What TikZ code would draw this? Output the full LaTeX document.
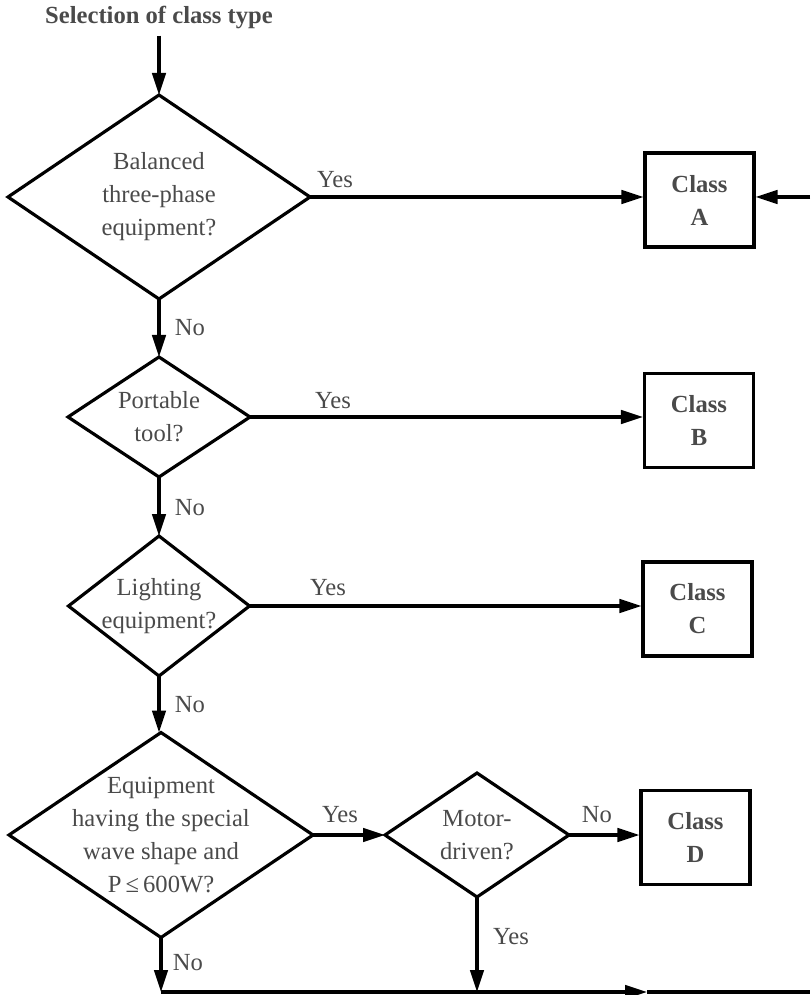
\documentclass[tikz,border=0pt]{standalone}
\usepackage{fontspec}
\setmainfont{Liberation Serif}
\usetikzlibrary{shapes.geometric,arrows.meta}
\definecolor{txtgray}{HTML}{4A4A4A}
\newcommand{\flowfont}{\fontsize{14pt}{18.8pt}\selectfont}
\tikzset{
  decision/.style={diamond, draw, line width=1.8pt, inner sep=0pt, outer sep=0pt},
  classbox/.style={rectangle, draw, line width=1.8pt, minimum width=2.18cm, minimum height=1.88cm,
    align=center, font=\flowfont\bfseries, text=txtgray},
  txt/.style={align=center, text=txtgray},
  lbl/.style={text=txtgray},
  arr/.style={line width=1.8pt, -{Triangle[length=0.44cm,width=0.27cm]}},
}
\begin{document}
\begin{tikzpicture}[font=\flowfont]
\useasboundingbox (0,0) rectangle (16.2,-19.9);

% --- Decisions ---
\node[txt, font=\flowfont\bfseries] (title) at (3.18,-0.36) {Selection of class type};
\node[decision, minimum width=6.04cm, minimum height=4.08cm] (d1) at (3.18,-3.94) {};
\node[txt] (d1t) at (d1) {Balanced\\three-phase\\equipment?};
\node[decision, minimum width=3.64cm, minimum height=2.4cm] (d2) at (3.18,-8.34) {};
\node[txt] (d2t) at (d2) {Portable\\tool?};
\node[decision, minimum width=3.62cm, minimum height=2.8cm] (d3) at (3.18,-12.12) {};
\node[txt] (d3t) at (d3) {Lighting\\equipment?};
\node[decision, minimum width=6.08cm, minimum height=4.1cm] (d4) at (3.22,-16.7) {};
\node[txt] (d4t) at (d4) {Equipment\\having the special\\wave shape and\\P\,≤\,600W?};
\node[decision, minimum width=3.68cm, minimum height=2.48cm] (m) at (9.54,-16.7) {};
\node[txt] (mt) at (m) {Motor-\\driven?};

% --- Classes ---
\node[classbox] (A) at (13.99,-4.0) {Class\\A};
\node[classbox] (B) at (13.98,-8.41) {Class\\B};
\node[classbox] (C) at (13.95,-12.18) {Class\\C};
\node[classbox] (D) at (13.91,-16.75) {Class\\D};

% --- Free ends ---
\coordinate (rA) at (16.2,-3.94);
\coordinate (bl) at (3.22,-19.84);
\coordinate (bm) at (12.94,-19.84);
\coordinate (bR) at (16.2,-19.84);

% --- Connectors ---
\draw[arr] (title.south) -- (d1.north);
\draw[arr] (d1.east) -- (d1.east -| A.west);
\draw[arr] (rA) -- (rA -| A.east);
\draw[arr] (d1.south) -- (d2.north);
\draw[arr] (d2.east) -- (d2.east -| B.west);
\draw[arr] (d2.south) -- (d3.north);
\draw[arr] (d3.east) -- (d3.east -| C.west);
\draw[arr] (d3.south) -- (d3.south |- d4.north);
\draw[arr] (d4.east) -- (m.west);
\draw[arr] (m.east) -- (m.east -| D.west);
\draw[arr] (d4.south) -- (d4.south |- bl);
\draw[arr] (m.south) -- (m.south |- bl);
\draw[arr] (d4.south |- bl) -- (bm);
\draw[line width=1.8pt] (bm) -- (bR);

% --- Labels ---
\node[lbl] (y1) at (6.7,-3.6) {Yes};
\node[lbl] (n1) at (3.8,-6.56) {No};
\node[lbl] (y2) at (6.66,-8.02) {Yes};
\node[lbl] (n2) at (3.8,-10.16) {No};
\node[lbl] (y3) at (6.56,-11.76) {Yes};
\node[lbl] (n3) at (3.8,-14.1) {No};
\node[lbl] (y4) at (6.8,-16.3) {Yes};
\node[lbl] (n4) at (11.94,-16.3) {No};
\node[lbl] (y5) at (10.22,-18.74) {Yes};
\node[lbl] (n5) at (3.76,-19.26) {No};

\end{tikzpicture}
\end{document}
